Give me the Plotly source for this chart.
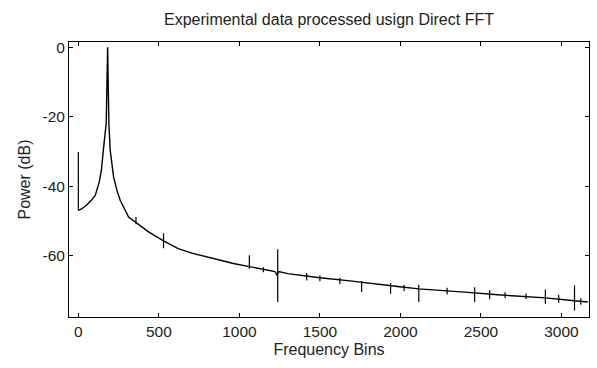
import plotly.graph_objects as go

# Main spectrum trace (bin, power dB)
bins = [0, 20, 50, 81, 105, 130, 143, 151, 160, 167, 173, 177, 182, 186, 190, 198,
        219, 240, 260, 312, 364, 436, 529, 620, 705, 756, 798, 880, 963, 1062,
        1149, 1221, 1232, 1245, 1300, 1376, 1500, 1686, 1850, 1996, 2114, 2306,
        2420, 2604, 2728, 2900, 3081, 3164]
power_db = [-47.0, -46.6, -45.5, -44.1, -42.7, -38.8, -35.5, -30.6, -27.5, -24.5,
            -22.0, -12.0, 0.0, -12.0, -22.5, -29.7, -37.4, -41.3, -44.1, -48.9,
            -50.8, -53.2, -55.8, -58.0, -59.3, -59.9, -60.5, -61.5, -62.3, -63.2,
            -64.0, -64.6, -65.5, -64.6, -65.2, -65.7, -66.4, -67.3, -68.3, -69.0,
            -69.6, -70.1, -70.6, -71.3, -71.6, -72.2, -73.0, -73.4]

# Spurs (vertical spikes): bin, top dB, bottom dB
spur_bins = [0, 358, 529, 1062, 1149, 1238, 1418, 1500, 1624, 1759, 1939, 2023,
             2114, 2290, 2461, 2554, 2650, 2780, 2900, 2983, 3081, 3120]
spur_top = [-30.2, -48.9, -53.6, -59.9, -63.4, -58.2, -65.0, -65.7, -66.4, -67.3,
            -67.9, -68.4, -68.4, -69.3, -69.1, -70.0, -70.6, -70.9, -69.8, -71.3,
            -68.6, -72.3]
spur_bottom = [-47.0, -51.0, -57.9, -63.8, -64.8, -73.4, -67.2, -67.4, -68.2, -70.5,
               -71.0, -70.2, -73.4, -71.2, -73.4, -72.6, -72.2, -72.5, -73.9, -73.6,
               -75.8, -74.2]

x_ticks = [0, 500, 1000, 1500, 2000, 2500, 3000]
y_ticks = [0, -20, -40, -60]
y_tick_labels = ["0", "-20", "-40", "-60"]

sx, sy = [], []
for b, t, lo in zip(spur_bins, spur_top, spur_bottom):
    sx += [b, b, None]
    sy += [t, lo, None]

fig = go.Figure()
fig.add_trace(go.Scatter(x=bins, y=power_db, mode="lines",
                         line=dict(color="black", width=1.4), showlegend=False))
fig.add_trace(go.Scatter(x=sx, y=sy, mode="lines",
                         line=dict(color="black", width=1.2), showlegend=False))

font = dict(family="Liberation Sans, Arial, sans-serif", size=16, color="#222222")
tick_font = dict(family="Liberation Sans, Arial, sans-serif", size=15.5, color="#222222")
axis_common = dict(showgrid=False, zeroline=False, showline=True, linecolor="black",
                   linewidth=1, mirror="ticks", ticks="inside", ticklen=4,
                   tickcolor="black", tickfont=tick_font)

fig.update_layout(
    width=597, height=368,
    margin=dict(l=69, r=8, t=42, b=51),
    paper_bgcolor="white", plot_bgcolor="white",
    font=font,
    title=dict(text="Experimental data processed usign Direct FFT", x=0.5, xref="paper",
               xanchor="center", y=1 - 19 / 368, yref="container", yanchor="middle",
               font=font),
    xaxis=dict(range=[-58, 3171], tickvals=x_ticks,
               title=dict(text="Frequency Bins", font=font, standoff=5), **axis_common),
    yaxis=dict(range=[-77.7, 1.5], tickvals=y_ticks, ticktext=y_tick_labels,
               title=dict(text="Power (dB)", font=font, standoff=7), **axis_common),
)

fig.write_html("out.html")
